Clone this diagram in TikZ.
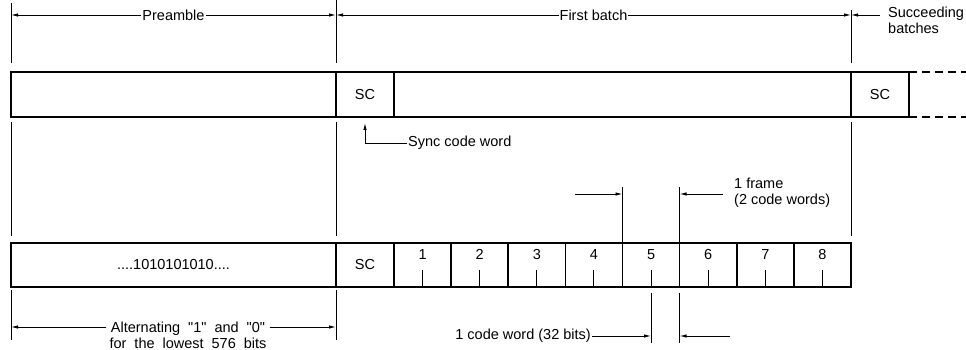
\documentclass[tikz,border=0pt]{standalone}
\usepackage{fontspec}
\setmainfont{Liberation Sans}
\usetikzlibrary{arrows.meta,positioning}
\newcommand\wsp{\hskip0.55em\relax}

\begin{document}
\begin{tikzpicture}[
    x=1pt, y=-1pt,
    font=\fontsize{14.5}{16}\selectfont,
    cell/.style={draw=black, line width=1.6pt, rectangle, inner sep=0pt, outer sep=0pt, anchor=north west, minimum height=45pt},
    frm/.style={cell, minimum width=57.125pt, minimum height=44pt},
    dim/.style={line width=0.9pt},
    arrow/.style={-{Latex[length=7pt,width=3.5pt]}, line width=0.9pt},
    twoway/.style={{Latex[length=7pt,width=3.5pt]}-{Latex[length=7pt,width=3.5pt]}, line width=0.9pt},
    tail/.style={line width=1.6pt, dash pattern=on 8pt off 5pt},
    tag/.style={inner sep=1pt, fill=white}
]
  \useasboundingbox (0,0) rectangle (966,350);

  % Nodes
  \node (pre) [cell, minimum width=325pt] at (11,72) {};
  \node (sc) [cell, minimum width=58pt, right=0pt of pre] {SC};
  \node (batch) [cell, minimum width=457pt, right=0pt of sc] {};
  \node (scnext) [cell, minimum width=58pt, right=0pt of batch] {SC};

  \node (bits) [cell, minimum width=325pt, minimum height=44pt] at (11,243) {....1010101010....};
  \node (f0) [cell, minimum width=58pt, minimum height=44pt, right=0pt of bits] {SC};
  \foreach \i [remember=\i as \prev (initially 0)] in {1,...,8} {
    \node (f\i) [frm, right=0pt of f\prev] {};
    \node (n\i) [below=3pt of f\i.north] {\i};
    \draw [dim] (f\i.south) -- ++(0,-17);
  }

  \coordinate (endtop) at (966,72);
  \coordinate (endbot) at (966,117);
  \draw [tail] (scnext.north east) -- (endtop);
  \draw [tail] (scnext.south east) -- (endbot);

  % Extension lines
  \draw [dim] (pre.north west |- 0,3) -- (pre.north west |- 0,63);
  \draw [dim] (sc.north west |- 0,0) -- (sc.north west |- 0,63);
  \draw [dim] (scnext.north west |- 0,10) -- (scnext.north west |- 0,63);
  \foreach \n in {pre, sc, scnext}
    \draw [dim] (\n.south west |- 0,122) -- (\n.south west |- 0,236);
  \foreach \n in {bits, f0}
    \draw [dim] (\n.south west |- 0,290) -- (\n.south west |- 0,340);
  \draw [dim] (f5.north west |- 0,187) -- (f5.north west);
  \draw [dim] (f5.north east |- 0,187) -- (f5.north east);
  \draw [dim] (f5.south |- 0,293) -- (f5.south |- 0,343);
  \draw [dim] (f5.south east |- 0,293) -- (f5.south east |- 0,343);

  % Labels
  \node (succ) [anchor=north west, inner sep=0pt, align=left] at (888,7) {Succeeding\\batches};
  \node (sync) [anchor=west, inner sep=1pt] at (407,143) {Sync code word};
  \node (frame) [anchor=west, inner sep=1pt, align=left] at (733,193) {1 frame\\(2 code words)};
  \node (cw) [anchor=east, inner sep=1pt] at (592,336) {1 code word (32 bits)};
  \node (alt) [tag, inner xsep=3pt, align=center] at (188,335) {Alternating\wsp\textquotedbl1\textquotedbl\wsp and\wsp\textquotedbl0\textquotedbl\\for\wsp the\wsp lowest\wsp 576\wsp bits};

  \coordinate (sb) at (880,15);
  \coordinate (fa) at (575,194);
  \coordinate (fb) at (723,194);
  \coordinate (cb) at (730,336);

  % Arrows
  \draw [twoway] (pre.north west |- 0,15) -- node[tag] {Preamble} (sc.north west |- 0,15);
  \draw [twoway] (sc.north west |- 0,15) -- node[tag] {First batch} (scnext.north west |- 0,15);
  \draw [arrow] (sb) -- (scnext.north west |- sb);
  \draw [arrow] (sync.west) -| (sc.south |- 0,123);
  \draw [arrow] (fa) -- (f5.north west |- fa);
  \draw [arrow] (fb) -- (f5.north east |- fb);
  \draw [arrow] (cw.east) -- (f5.south |- cw.east);
  \draw [arrow] (cb) -- (f5.south east |- cb);
  \draw [arrow] (alt.west |- 0,327) -- (bits.south west |- 0,327);
  \draw [arrow] (alt.east |- 0,327) -- (f0.south west |- 0,327);

\end{tikzpicture}
\end{document}
